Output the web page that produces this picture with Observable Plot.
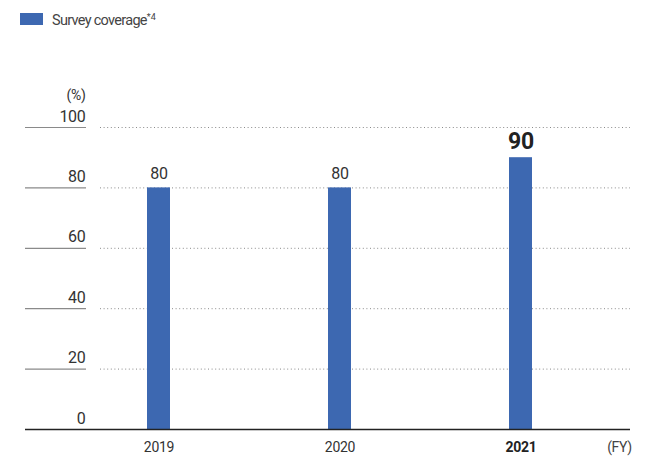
<!DOCTYPE html>
<html>
<head>
<meta charset="utf-8">
<script src="https://cdn.jsdelivr.net/npm/d3@7"></script>
<script src="https://cdn.jsdelivr.net/npm/@observablehq/plot@0.6"></script>
<style>
  body { margin: 0; background: #fff; font-family: Roboto, "Noto Sans", sans-serif; }
  #wrap { position: relative; width: 669px; height: 461px; }
  #legend { position: absolute; left: 20px; top: 10px; display: flex; align-items: center; font-size: 14.5px; color: #444; letter-spacing: -0.7px; }
  #legend .sw { width: 23px; height: 12px; background: #3d68b1; margin-right: 9px; }
  #legend .lt { position: relative; top: 2px; }
  #legend sup { font-size: 9px; vertical-align: 5px; letter-spacing: 0; }
  #chart { position: absolute; left: 0; top: 0; }
  #chart svg text { letter-spacing: -0.3px; }
</style>
</head>
<body>
<div id="wrap">
  <div id="chart"></div>
  <div id="legend"><div class="sw"></div><span class="lt">Survey coverage<sup>*4</sup></span></div>
</div>
<script>
const years = ["2019", "2020", "2021"];
const coverage = [80, 80, 90];
const yTicks = [0, 20, 40, 60, 80, 100];
const highlightYear = "2021";
const unitLabel = "(%)";
const xUnitLabel = "(FY)";

const data = years.map((y, i) => ({year: y, value: coverage[i]}));
const font = "Roboto, Noto Sans, sans-serif";
const barColor = "#3d68b1";
const normal = data.filter(d => d.year !== highlightYear);
const high = data.filter(d => d.year === highlightYear);

const chart = Plot.plot({
  width: 669,
  height: 461,
  marginLeft: 25,
  marginRight: 39,
  marginTop: 127,
  marginBottom: 32,
  style: {fontFamily: font, background: "transparent", overflow: "visible"},
  x: {domain: years, range: [67.25, 611.75], paddingInner: 0.873, paddingOuter: 0.4365, axis: null},
  y: {domain: [0, 100], axis: null},
  marks: [
    Plot.ruleY(yTicks.filter(d => d > 0), {y: d => d, insetLeft: 75, stroke: "#8a8a8a", strokeWidth: 1, strokeDasharray: "1,2.6"}),
    Plot.ruleY(yTicks.filter(d => d > 0), {y: d => d, insetRight: 544, stroke: "#8a8a8a", strokeWidth: 1.2}),
    Plot.text(yTicks, {y: d => d, text: d => String(d), frameAnchor: "left", dx: 60, dy: -11, textAnchor: "end", fontSize: 16, fill: "#333"}),
    Plot.text([100], {y: d => d, text: () => unitLabel, frameAnchor: "left", dx: 60, dy: -32, textAnchor: "end", fontSize: 14, fill: "#333"}),
    Plot.barY(data, {x: "year", y: "value", fill: barColor}),
    Plot.ruleY([0], {stroke: "#222", strokeWidth: 1.3}),
    Plot.text(normal, {x: "year", y: "value", text: d => String(d.value), dy: -14, fontSize: 16, fill: "#333"}),
    Plot.text(high, {x: "year", y: "value", text: d => String(d.value), dy: -16, fontSize: 23, fontWeight: "bold", fill: "#222"}),
    Plot.text(normal, {x: "year", y: 0, text: "year", dy: 18, fontSize: 14, fill: "#333"}),
    Plot.text(high, {x: "year", y: 0, text: "year", dy: 18, fontSize: 14, fontWeight: "bold", fill: "#222"}),
    Plot.text([0], {y: d => d, text: () => xUnitLabel, frameAnchor: "right", dx: -11, dy: 18, textAnchor: "middle", fontSize: 14, fill: "#444"})
  ]
});
document.getElementById("chart").appendChild(chart);
</script>
</body>
</html>
